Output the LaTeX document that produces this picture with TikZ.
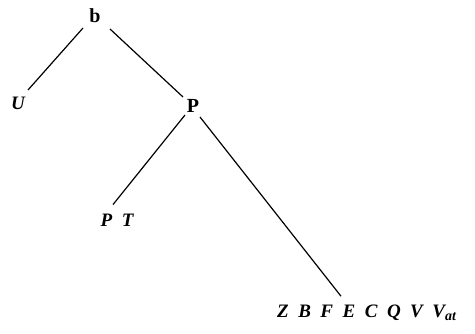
\documentclass[tikz,border=0pt]{standalone}
\usepackage{fontspec}
\setmainfont{Liberation Serif}
\usetikzlibrary{calc}
\begin{document}
\begin{tikzpicture}[x=1pt,y=-1pt,
  lbl/.style={inner sep=0pt, font=\fontsize{19}{22}\selectfont\bfseries\itshape},
  cat/.style={inner sep=0pt, font=\fontsize{20}{22}\selectfont\bfseries},
  edge/.style={line width=1.2pt}]
\useasboundingbox (0,0) rectangle (475,334);
\node[cat] (b) at (95,16) {b};
\node[lbl] (U) at (18,103) {U};
\node[cat] (P) at (193,106) {P};
\node[lbl] (PT) at (117,220) {P\hspace{0.5em}T};
\node[lbl,anchor=base west] (bot) at (277,318) {Z\hspace{0.5em}B\hspace{0.5em}F\hspace{0.5em}E\hspace{0.5em}C\hspace{0.5em}Q\hspace{0.5em}V\hspace{0.5em}V\raisebox{-0.15em}{\fontsize{14}{15}\selectfont at}};
\draw[edge] ($(b)+(-12,12)$) -- ($(U)+(10,-13)$);
\draw[edge] ($(b)+(15,13)$) -- ($(P)+(-10,-9)$);
\draw[edge] ($(P)+(-8,9)$) -- ($(PT.north)+(-4,-9)$);
\draw[edge] ($(P)+(7,11)$) -- ($(bot.north west)+(64,-9)$);
\end{tikzpicture}
\end{document}
